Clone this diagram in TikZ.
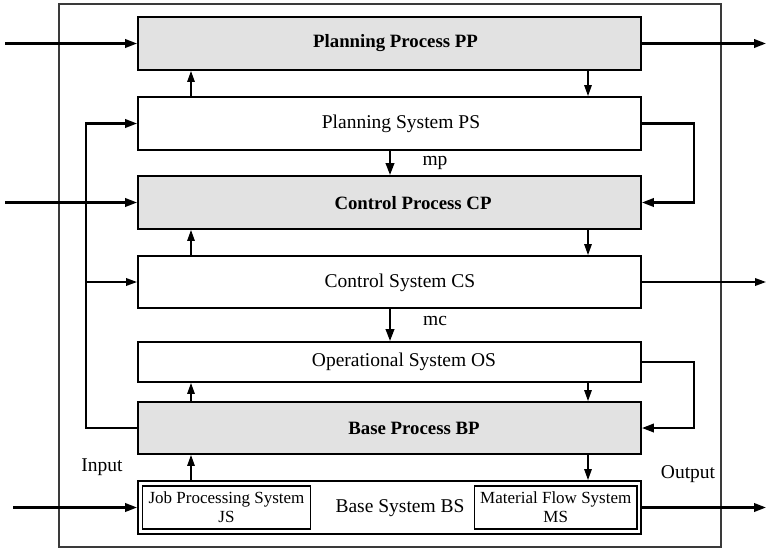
\documentclass[tikz,border=0pt]{standalone}
\usepackage{fontspec}
\setmainfont{Liberation Serif}
\usetikzlibrary{arrows.meta}
\definecolor{procgray}{HTML}{E2E2E2}
\definecolor{framegray}{HTML}{3A3A3A}
\begin{document}
\begin{tikzpicture}[x=1pt,y=-1pt,
  box/.style={draw=black,line width=1.9pt,minimum width=503pt,inner sep=0pt},
  procbox/.style={box,fill=procgray},
  subbox/.style={draw=black,line width=1.3pt,minimum height=43pt,inner sep=0pt},
  lbl/.style={font=\fontsize{19.5}{22}\selectfont,inner sep=0pt},
  blbl/.style={font=\fontsize{18.8}{22}\selectfont\bfseries,inner sep=0pt},
  slbl/.style={font=\fontsize{17}{19}\selectfont,align=center,inner sep=0pt},
  thickarr/.style={line width=2.2pt,-{Triangle[length=12pt,width=8.5pt]}},
  thinarr/.style={line width=1.4pt,-{Triangle[length=11pt,width=7.5pt]}},
]
\useasboundingbox (0,0) rectangle (767,549);
% outer frame
\draw[framegray,line width=1.5pt] (59,4) rectangle (721,547);

% boxes
\node[procbox,minimum height=53pt] (pp) at (389.5,43.5) {};
\node[box,minimum height=53pt] (ps) at (389.5,123.5) {};
\node[procbox,minimum height=53pt] (cp) at (389.5,202.5) {};
\node[box,minimum height=52pt] (cs) at (389.5,282) {};
\node[box,minimum height=40pt] (os) at (389.5,362) {};
\node[procbox,minimum height=52pt] (bp) at (389.5,428) {};
\node[box,minimum height=53pt] (bs) at (389.5,507.5) {};
\node[subbox,minimum width=168pt] (js) at (226.5,507.5) {};
\node[subbox,minimum width=162.5pt] (ms) at (555.75,507.5) {};

% texts
\node[blbl] (ppt) at (395.5,43.5) {Planning Process PP};
\node[lbl] (pst) at (401,124) {Planning System PS};
\node[blbl] (cpt) at (413,203) {Control Process CP};
\node[lbl] (cst) at (400,282.5) {Control System CS};
\node[lbl] (ost) at (404,362) {Operational System OS};
\node[blbl] (bpt) at (414,428) {Base Process BP};
\node[lbl] (bst) at (400,508) {Base System BS};
\node[slbl] (jst) at (226.5,507.5) {Job Processing System\\JS};
\node[slbl] (mst) at (555.75,507.5) {Material Flow System\\MS};
\node[lbl] (mpt) at (435,163) {mp};
\node[lbl] (mct) at (435,321) {mc};
\node[lbl] (int) at (102,467) {Input};
\node[lbl] (outt) at (688,474) {Output};

% coordinates
\coordinate (U) at (191,0);
\coordinate (D) at (588,0);
\coordinate (M) at (390,0);
\coordinate (FL) at (86,0);
\coordinate (FR) at (694,0);
\coordinate (in1) at (5,43.5);
\coordinate (in2) at (5,202.5);
\coordinate (in3) at (13,507.5);
\coordinate (out1) at (766,43.5);
\coordinate (out2) at (766,282);
\coordinate (out3) at (766,507.5);

% inputs / outputs
\draw[thickarr] (in1) -- (pp.west);
\draw[thickarr] (in2) -- (cp.west);
\draw[thickarr] (in3) -- (bs.west);
\draw[thickarr] (pp.east) -- (out1);
\draw[thinarr,line width=1.8pt] (cs.east) -- (out2);
\draw[thickarr] (bs.east) -- (out3);

% vertical small arrows
\draw[thinarr] (ps.north -| U) -- (pp.south -| U);
\draw[thinarr] (pp.south -| D) -- (ps.north -| D);
\draw[thinarr] (cs.north -| U) -- (cp.south -| U);
\draw[thinarr] (cp.south -| D) -- (cs.north -| D);
\draw[thinarr] (bp.north -| U) -- (os.south -| U);
\draw[thinarr] (os.south -| D) -- (bp.north -| D);
\draw[thinarr] (bs.north -| U) -- (bp.south -| U);
\draw[thinarr] (bp.south -| D) -- (bs.north -| D);

% mp / mc
\draw[thickarr] (ps.south -| M) -- (cp.north -| M);
\draw[thickarr] (cs.south -| M) -- (os.north -| M);

% right loops
\draw[thickarr] (ps.east) -- (ps.east -| FR) -- (cp.east -| FR) -- (cp.east);
\draw[thickarr] (os.east) -- (os.east -| FR) -- (bp.east -| FR) -- (bp.east);

% left feedback loop
\draw[thickarr] (bp.west) -- (bp.west -| FL) -- (ps.west -| FL) -- (ps.west);
\draw[thinarr,line width=1.8pt] (cs.west -| FL) -- (cs.west);
\end{tikzpicture}
\end{document}
